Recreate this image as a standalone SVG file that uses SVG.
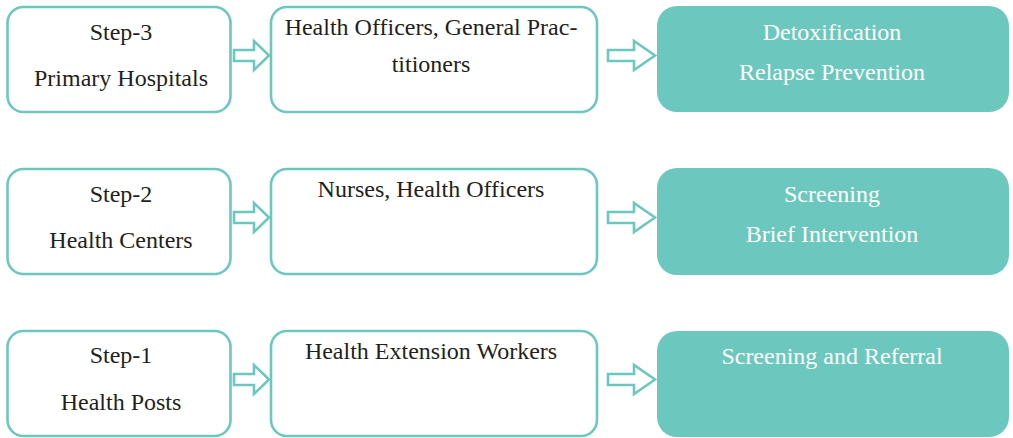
<svg xmlns="http://www.w3.org/2000/svg" width="1013" height="438" viewBox="0 0 1013 438">
<style>
.out{fill:#fff;stroke:#6cc8be;stroke-width:2.6}
.fill{fill:#6cc8be}
.t{font-family:'Liberation Serif',serif;font-size:24px;fill:#231f20;text-anchor:middle}
.w{font-family:'Liberation Serif',serif;font-size:24px;fill:#fff;text-anchor:middle}
.arr{fill:#fff;stroke:#6cc8be;stroke-width:2.6;stroke-linejoin:miter}
</style>
<defs>
<path id="la" d="M0,-5.5 H20 V-14.5 L35,0 L20,14.5 V5.5 H0 Z"/>
<path id="ra" d="M0,-5.5 H26 V-14.5 L47,0 L26,14.5 V5.5 H0 Z"/>
</defs>
<rect width="1013" height="438" fill="#fff"/>
<g id="connectors">
<use href="#la" class="arr" x="234" y="55.5"/>
<use href="#la" class="arr" x="234" y="217.5"/>
<use href="#la" class="arr" x="234" y="379.5"/>
<use href="#ra" class="arr" x="608" y="55.5"/>
<use href="#ra" class="arr" x="608" y="217.5"/>
<use href="#ra" class="arr" x="608" y="379.5"/>
</g>
<g id="step3">
<rect class="out" x="7.5" y="7" width="223" height="105" rx="16"/>
<text class="t" x="121" y="40" font-family="Liberation Serif, serif">Step-3</text>
<text class="t" x="121" y="86" font-family="Liberation Serif, serif">Primary Hospitals</text>
</g>
<g id="staff3">
<rect class="out" x="271" y="7" width="326" height="105" rx="16"/>
<text class="t" x="431" y="35">Health Officers, General Prac-</text>
<text class="t" x="431" y="72">titioners</text>
</g>
<g id="service3">
<rect class="fill" x="657" y="6" width="352" height="106" rx="20"/>
<text class="w" x="832" y="40">Detoxification</text>
<text class="w" x="832" y="80">Relapse Prevention</text>
</g>
<g id="step2">
<rect class="out" x="7.5" y="169" width="223" height="105" rx="16"/>
<text class="t" x="121" y="202">Step-2</text>
<text class="t" x="121" y="248">Health Centers</text>
</g>
<g id="staff2">
<rect class="out" x="271" y="169" width="326" height="105" rx="16"/>
<text class="t" x="431" y="197">Nurses, Health Officers</text>
</g>
<g id="service2">
<rect class="fill" x="657" y="168" width="352" height="107" rx="20"/>
<text class="w" x="832" y="202">Screening</text>
<text class="w" x="832" y="242">Brief Intervention</text>
</g>
<g id="step1">
<rect class="out" x="7.5" y="331" width="223" height="105" rx="16"/>
<text class="t" x="121" y="363">Step-1</text>
<text class="t" x="121" y="410">Health Posts</text>
</g>
<g id="staff1">
<rect class="out" x="271" y="331" width="326" height="105" rx="16"/>
<text class="t" x="431" y="359">Health Extension Workers</text>
</g>
<g id="service1">
<rect class="fill" x="657" y="331" width="352" height="106" rx="20"/>
<text class="w" x="832" y="364">Screening and Referral</text>
</g>
</svg>
